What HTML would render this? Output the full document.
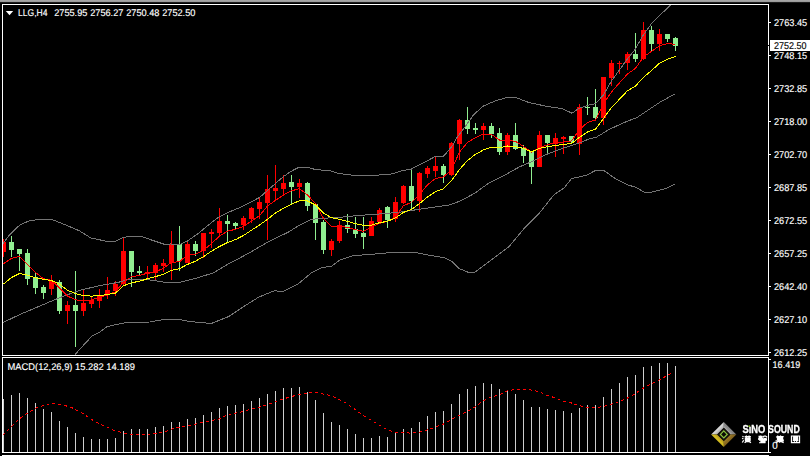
<!DOCTYPE html>
<html><head><meta charset="utf-8"><title>LLG,H4</title>
<style>
html,body{margin:0;padding:0;background:#000;}
body{width:810px;height:456px;overflow:hidden;position:relative;font-family:"Liberation Sans",sans-serif;}
svg{position:absolute;left:0;top:0;display:block}
.t{font-family:"Liberation Sans",sans-serif;font-size:9.3px;fill:#fff;stroke:#fff;stroke-width:0.15px}
</style></head><body>
<svg width="810" height="456" viewBox="0 0 810 456">
<defs>
<linearGradient id="gs" x1="0" y1="0" x2="0" y2="1"><stop offset="0" stop-color="#aaaaaa"/><stop offset="0.6" stop-color="#9a9a9a"/><stop offset="1" stop-color="#222"/></linearGradient>
<clipPath id="cm"><rect x="3" y="5" width="765" height="350"/></clipPath>
<clipPath id="cd"><rect x="3" y="358" width="765" height="94"/></clipPath>
</defs>
<rect width="810" height="456" fill="#000"/>
<rect x="0" y="0" width="810" height="2.6" fill="url(#gs)"/>
<!-- frames -->
<g fill="#fff" shape-rendering="crispEdges">
<rect x="2" y="4" width="767" height="1"/>
<rect x="2" y="4" width="1" height="352"/>
<rect x="2" y="355" width="767" height="1"/>
<rect x="768" y="4" width="1" height="41"/>
<rect x="768" y="46" width="1" height="310"/>
<rect x="2" y="357" width="767" height="1"/>
<rect x="2" y="357" width="1" height="96"/>
<rect x="2" y="452" width="767" height="1"/>
<rect x="768" y="357" width="1" height="96"/>
<rect x="2" y="455" width="767" height="1"/>
<rect x="2" y="455" width="1" height="1"/>
<rect x="768" y="455" width="1" height="1"/>
</g>
<!-- ticks -->
<g fill="#fff" shape-rendering="crispEdges" id="ticks">
<rect x="769" y="22" width="2" height="1"/><rect x="769" y="55" width="2" height="1"/><rect x="769" y="88" width="2" height="1"/><rect x="769" y="121" width="2" height="1"/><rect x="769" y="154" width="2" height="1"/><rect x="769" y="187" width="2" height="1"/><rect x="769" y="220" width="2" height="1"/><rect x="769" y="253" width="2" height="1"/><rect x="769" y="286" width="2" height="1"/><rect x="769" y="319" width="2" height="1"/><rect x="769" y="352" width="2" height="1"/>
<rect x="769" y="359" width="2" height="1"/>
<rect x="769" y="452" width="2" height="1"/>
</g>
<g clip-path="url(#cm)">
<g shape-rendering="crispEdges">
<rect x="3" y="239" width="1" height="18" fill="#ff0000"/>
<rect x="1" y="242" width="5" height="10" fill="#ff0000"/>
<rect x="11" y="236" width="1" height="21" fill="#90ee90"/>
<rect x="9" y="242" width="5" height="8" fill="#90ee90"/>
<rect x="19" y="249" width="1" height="22" fill="#90ee90"/>
<rect x="17" y="249" width="5" height="5" fill="#90ee90"/>
<rect x="27" y="249" width="1" height="36" fill="#90ee90"/>
<rect x="25" y="253" width="5" height="26" fill="#90ee90"/>
<rect x="35" y="272" width="1" height="22" fill="#90ee90"/>
<rect x="33" y="277" width="5" height="11" fill="#90ee90"/>
<rect x="43" y="285" width="1" height="14" fill="#90ee90"/>
<rect x="41" y="287" width="5" height="6" fill="#90ee90"/>
<rect x="51" y="275" width="1" height="20" fill="#ff0000"/>
<rect x="49" y="281" width="5" height="8" fill="#ff0000"/>
<rect x="59" y="280" width="1" height="34" fill="#90ee90"/>
<rect x="57" y="282" width="5" height="29" fill="#90ee90"/>
<rect x="67" y="301" width="1" height="23" fill="#ff0000"/>
<rect x="65" y="305" width="5" height="6" fill="#ff0000"/>
<rect x="75" y="271" width="1" height="76" fill="#90ee90"/>
<rect x="73" y="305" width="5" height="6" fill="#90ee90"/>
<rect x="83" y="290" width="1" height="26" fill="#ff0000"/>
<rect x="81" y="303" width="5" height="8" fill="#ff0000"/>
<rect x="91" y="297" width="1" height="11" fill="#ff0000"/>
<rect x="89" y="300" width="5" height="4" fill="#ff0000"/>
<rect x="99" y="289" width="1" height="19" fill="#ff0000"/>
<rect x="97" y="296" width="5" height="5" fill="#ff0000"/>
<rect x="107" y="277" width="1" height="22" fill="#ff0000"/>
<rect x="105" y="290" width="5" height="4" fill="#ff0000"/>
<rect x="115" y="281" width="1" height="15" fill="#ff0000"/>
<rect x="113" y="284" width="5" height="7" fill="#ff0000"/>
<rect x="123" y="238" width="1" height="47" fill="#ff0000"/>
<rect x="121" y="251" width="5" height="33" fill="#ff0000"/>
<rect x="131" y="251" width="1" height="36" fill="#90ee90"/>
<rect x="129" y="251" width="5" height="21" fill="#90ee90"/>
<rect x="139" y="266" width="1" height="10" fill="#90ee90"/>
<rect x="137" y="271" width="5" height="2" fill="#90ee90"/>
<rect x="147" y="266" width="1" height="14" fill="#ff0000"/>
<rect x="145" y="272" width="5" height="2" fill="#ff0000"/>
<rect x="155" y="263" width="1" height="18" fill="#ff0000"/>
<rect x="153" y="265" width="5" height="8" fill="#ff0000"/>
<rect x="163" y="259" width="1" height="13" fill="#ff0000"/>
<rect x="161" y="263" width="5" height="3" fill="#ff0000"/>
<rect x="171" y="231" width="1" height="49" fill="#ff0000"/>
<rect x="169" y="244" width="5" height="19" fill="#ff0000"/>
<rect x="179" y="226" width="1" height="45" fill="#90ee90"/>
<rect x="177" y="244" width="5" height="17" fill="#90ee90"/>
<rect x="187" y="240" width="1" height="23" fill="#ff0000"/>
<rect x="185" y="244" width="5" height="19" fill="#ff0000"/>
<rect x="195" y="241" width="1" height="15" fill="#90ee90"/>
<rect x="193" y="244" width="5" height="7" fill="#90ee90"/>
<rect x="203" y="233" width="1" height="25" fill="#ff0000"/>
<rect x="201" y="233" width="5" height="18" fill="#ff0000"/>
<rect x="211" y="229" width="1" height="19" fill="#ff0000"/>
<rect x="209" y="232" width="5" height="2" fill="#ff0000"/>
<rect x="219" y="208" width="1" height="28" fill="#ff0000"/>
<rect x="217" y="221" width="5" height="12" fill="#ff0000"/>
<rect x="227" y="215" width="1" height="27" fill="#90ee90"/>
<rect x="225" y="221" width="5" height="3" fill="#90ee90"/>
<rect x="235" y="222" width="1" height="7" fill="#90ee90"/>
<rect x="233" y="223" width="5" height="3" fill="#90ee90"/>
<rect x="243" y="216" width="1" height="14" fill="#ff0000"/>
<rect x="241" y="218" width="5" height="7" fill="#ff0000"/>
<rect x="251" y="207" width="1" height="16" fill="#ff0000"/>
<rect x="249" y="208" width="5" height="11" fill="#ff0000"/>
<rect x="259" y="198" width="1" height="21" fill="#ff0000"/>
<rect x="257" y="202" width="5" height="7" fill="#ff0000"/>
<rect x="267" y="175" width="1" height="65" fill="#ff0000"/>
<rect x="265" y="189" width="5" height="14" fill="#ff0000"/>
<rect x="275" y="165" width="1" height="36" fill="#ff0000"/>
<rect x="273" y="188" width="5" height="3" fill="#ff0000"/>
<rect x="283" y="175" width="1" height="20" fill="#ff0000"/>
<rect x="281" y="183" width="5" height="6" fill="#ff0000"/>
<rect x="291" y="175" width="1" height="29" fill="#90ee90"/>
<rect x="289" y="182" width="5" height="5" fill="#90ee90"/>
<rect x="299" y="179" width="1" height="19" fill="#ff0000"/>
<rect x="297" y="183" width="5" height="4" fill="#ff0000"/>
<rect x="307" y="182" width="1" height="29" fill="#90ee90"/>
<rect x="305" y="183" width="5" height="23" fill="#90ee90"/>
<rect x="315" y="204" width="1" height="36" fill="#90ee90"/>
<rect x="313" y="204" width="5" height="19" fill="#90ee90"/>
<rect x="323" y="220" width="1" height="34" fill="#90ee90"/>
<rect x="321" y="222" width="5" height="28" fill="#90ee90"/>
<rect x="331" y="239" width="1" height="17" fill="#ff0000"/>
<rect x="329" y="241" width="5" height="9" fill="#ff0000"/>
<rect x="339" y="221" width="1" height="22" fill="#ff0000"/>
<rect x="337" y="225" width="5" height="16" fill="#ff0000"/>
<rect x="347" y="214" width="1" height="19" fill="#90ee90"/>
<rect x="345" y="225" width="5" height="4" fill="#90ee90"/>
<rect x="355" y="217" width="1" height="21" fill="#90ee90"/>
<rect x="353" y="229" width="5" height="5" fill="#90ee90"/>
<rect x="363" y="217" width="1" height="32" fill="#90ee90"/>
<rect x="361" y="233" width="5" height="4" fill="#90ee90"/>
<rect x="371" y="217" width="1" height="19" fill="#ff0000"/>
<rect x="369" y="221" width="5" height="15" fill="#ff0000"/>
<rect x="379" y="208" width="1" height="14" fill="#ff0000"/>
<rect x="377" y="210" width="5" height="12" fill="#ff0000"/>
<rect x="387" y="206" width="1" height="22" fill="#90ee90"/>
<rect x="385" y="207" width="5" height="13" fill="#90ee90"/>
<rect x="395" y="197" width="1" height="25" fill="#ff0000"/>
<rect x="393" y="202" width="5" height="17" fill="#ff0000"/>
<rect x="403" y="185" width="1" height="19" fill="#ff0000"/>
<rect x="401" y="186" width="5" height="17" fill="#ff0000"/>
<rect x="411" y="169" width="1" height="40" fill="#90ee90"/>
<rect x="409" y="186" width="5" height="15" fill="#90ee90"/>
<rect x="419" y="172" width="1" height="40" fill="#ff0000"/>
<rect x="417" y="173" width="5" height="28" fill="#ff0000"/>
<rect x="427" y="166" width="1" height="12" fill="#ff0000"/>
<rect x="425" y="168" width="5" height="6" fill="#ff0000"/>
<rect x="435" y="156" width="1" height="21" fill="#ff0000"/>
<rect x="433" y="166" width="5" height="5" fill="#ff0000"/>
<rect x="443" y="164" width="1" height="19" fill="#90ee90"/>
<rect x="441" y="166" width="5" height="9" fill="#90ee90"/>
<rect x="451" y="142" width="1" height="34" fill="#ff0000"/>
<rect x="449" y="143" width="5" height="32" fill="#ff0000"/>
<rect x="459" y="119" width="1" height="41" fill="#ff0000"/>
<rect x="457" y="120" width="5" height="24" fill="#ff0000"/>
<rect x="467" y="107" width="1" height="27" fill="#90ee90"/>
<rect x="465" y="120" width="5" height="9" fill="#90ee90"/>
<rect x="475" y="123" width="1" height="11" fill="#90ee90"/>
<rect x="473" y="128" width="5" height="2" fill="#90ee90"/>
<rect x="483" y="123" width="1" height="17" fill="#ff0000"/>
<rect x="481" y="126" width="5" height="4" fill="#ff0000"/>
<rect x="491" y="123" width="1" height="15" fill="#90ee90"/>
<rect x="489" y="126" width="5" height="8" fill="#90ee90"/>
<rect x="499" y="128" width="1" height="27" fill="#90ee90"/>
<rect x="497" y="133" width="5" height="19" fill="#90ee90"/>
<rect x="507" y="133" width="1" height="22" fill="#ff0000"/>
<rect x="505" y="135" width="5" height="17" fill="#ff0000"/>
<rect x="515" y="123" width="1" height="27" fill="#90ee90"/>
<rect x="513" y="135" width="5" height="14" fill="#90ee90"/>
<rect x="523" y="145" width="1" height="18" fill="#90ee90"/>
<rect x="521" y="148" width="5" height="8" fill="#90ee90"/>
<rect x="531" y="151" width="1" height="33" fill="#90ee90"/>
<rect x="529" y="152" width="5" height="15" fill="#90ee90"/>
<rect x="539" y="131" width="1" height="36" fill="#ff0000"/>
<rect x="537" y="135" width="5" height="32" fill="#ff0000"/>
<rect x="547" y="135" width="1" height="19" fill="#90ee90"/>
<rect x="545" y="135" width="5" height="8" fill="#90ee90"/>
<rect x="555" y="133" width="1" height="24" fill="#ff0000"/>
<rect x="553" y="138" width="5" height="6" fill="#ff0000"/>
<rect x="563" y="136" width="1" height="18" fill="#ff0000"/>
<rect x="561" y="137" width="5" height="2" fill="#ff0000"/>
<rect x="571" y="136" width="1" height="7" fill="#90ee90"/>
<rect x="569" y="136" width="5" height="6" fill="#90ee90"/>
<rect x="579" y="104" width="1" height="51" fill="#ff0000"/>
<rect x="577" y="107" width="5" height="37" fill="#ff0000"/>
<rect x="587" y="97" width="1" height="18" fill="#90ee90"/>
<rect x="585" y="107" width="5" height="1" fill="#90ee90"/>
<rect x="595" y="89" width="1" height="32" fill="#90ee90"/>
<rect x="593" y="107" width="5" height="11" fill="#90ee90"/>
<rect x="603" y="77" width="1" height="48" fill="#ff0000"/>
<rect x="601" y="77" width="5" height="41" fill="#ff0000"/>
<rect x="611" y="60" width="1" height="26" fill="#ff0000"/>
<rect x="609" y="63" width="5" height="15" fill="#ff0000"/>
<rect x="619" y="61" width="1" height="13" fill="#ff0000"/>
<rect x="617" y="63" width="5" height="1" fill="#ff0000"/>
<rect x="627" y="52" width="1" height="18" fill="#ff0000"/>
<rect x="625" y="54" width="5" height="9" fill="#ff0000"/>
<rect x="635" y="33" width="1" height="29" fill="#90ee90"/>
<rect x="633" y="54" width="5" height="5" fill="#90ee90"/>
<rect x="643" y="22" width="1" height="38" fill="#ff0000"/>
<rect x="641" y="30" width="5" height="29" fill="#ff0000"/>
<rect x="651" y="26" width="1" height="25" fill="#90ee90"/>
<rect x="649" y="30" width="5" height="14" fill="#90ee90"/>
<rect x="659" y="29" width="1" height="22" fill="#ff0000"/>
<rect x="657" y="34" width="5" height="10" fill="#ff0000"/>
<rect x="667" y="34" width="1" height="8" fill="#90ee90"/>
<rect x="665" y="34" width="5" height="5" fill="#90ee90"/>
<rect x="675" y="37" width="1" height="14" fill="#90ee90"/>
<rect x="673" y="38" width="5" height="8" fill="#90ee90"/>
</g>
<g fill="none" stroke="#747474" stroke-width="1" shape-rendering="crispEdges">
<polyline points="3.0,243.6 9.9,234.5 19.8,225.0 29.6,220.7 41.5,219.3 52.3,219.7 65.2,224.8 79.0,230.6 90.9,238.0 106.7,241.3 115.6,241.3 123.5,237.3 132.3,236.3 142.2,236.7 150.0,239.5 163.8,244.1 171.3,244.0 179.6,244.7 187.5,241.0 197.4,234.1 209.3,224.3 219.1,216.8 229.0,212.0 238.9,208.0 250.0,202.7 259.9,197.2 267.8,190.2 275.7,183.3 283.6,176.4 291.5,171.1 298.4,167.5 307.3,167.1 315.2,169.5 331.0,170.9 338.9,173.5 354.7,175.4 374.4,175.4 392.2,173.9 402.1,170.5 410.9,169.3 434.6,156.9 443.5,156.2 448.4,150.7 453.3,144.6 457.3,136.9 463.7,128.6 473.6,114.8 483.5,105.9 495.3,100.9 507.2,97.4 517.0,98.0 528.9,102.5 544.7,105.9 562.5,108.8 572.0,113.2 578.3,108.8 587.8,105.2 595.7,103.6 603.6,94.7 611.7,80.6 619.6,69.8 627.0,59.5 635.0,49.5 643.0,35.5 651.0,24.3 659.0,16.0 667.0,8.5 671.0,4.5"/>
<polyline points="3.0,322.6 19.8,314.5 39.5,306.2 59.3,297.8 79.0,290.5 98.8,285.8 118.5,282.3 128.4,279.3 142.2,279.3 150.0,280.0 165.8,282.4 179.6,282.4 195.4,278.5 213.2,272.9 229.0,263.6 248.8,253.2 268.5,241.6 288.3,232.2 300.0,224.8 311.9,219.3 323.7,218.3 339.5,217.3 359.3,215.4 379.0,214.0 398.8,212.4 418.5,209.4 438.3,206.5 450.0,204.8 460.0,201.1 475.2,193.0 488.5,183.2 503.2,176.0 519.0,167.1 532.8,161.2 546.7,154.3 562.5,148.3 578.3,143.4 590.1,138.5 595.7,137.6 609.5,129.3 623.3,122.9 637.2,117.4 649.0,109.5 660.9,101.6 674.7,94.1"/>
<polyline points="73.5,357.0 75.3,354.3 79.6,349.4 87.0,341.5 92.0,335.8 99.4,332.5 106.5,327.0 111.7,325.5 121.0,323.5 127.2,322.6 150.0,322.0 163.8,319.5 179.6,319.5 189.5,321.5 211.2,323.5 229.0,316.4 242.8,307.1 258.6,297.2 274.4,290.7 282.3,291.7 298.1,284.0 311.9,272.5 321.7,267.6 331.6,266.2 339.5,260.3 353.3,255.7 373.1,254.2 392.8,252.4 414.6,252.4 428.4,255.1 444.2,257.7 452.1,261.7 458.9,268.5 467.8,272.1 475.2,272.1 488.5,262.0 509.3,246.3 524.1,228.5 538.9,213.7 553.7,195.0 564.1,187.9 571.5,178.7 586.3,175.2 595.2,170.7 604.1,170.7 615.9,179.0 627.8,185.0 635.2,187.0 644.1,192.1 651.5,192.1 666.3,188.5 675.2,184.1"/>
</g>
<polyline points="3.5,263.6 11.5,258.4 19.5,256.4 27.5,264.3 35.5,272.4 43.5,278.8 51.5,280.3 59.5,287.8 67.5,296.1 75.5,299.7 83.5,301.0 91.5,300.1 99.5,297.1 107.5,295.1 115.5,291.8 123.5,282.3 131.5,276.8 139.5,275.4 147.5,273.2 155.5,271.9 163.5,268.2 171.5,262.3 179.5,261.8 187.5,254.8 195.5,254.4 203.5,250.3 211.5,243.5 219.5,236.1 227.5,231.2 235.5,229.3 243.5,226.6 251.5,221.0 259.5,215.6 267.5,206.0 275.5,200.4 283.5,195.0 291.5,190.8 299.5,188.7 307.5,195.0 315.5,203.6 323.5,218.5 331.5,226.3 339.5,226.6 347.5,227.2 355.5,229.8 363.5,231.2 371.5,227.2 379.5,223.3 387.5,221.3 395.5,217.3 403.5,205.5 411.5,202.5 419.5,194.6 427.5,184.8 435.5,178.4 443.5,176.9 451.5,170.0 459.5,152.0 467.5,142.4 475.5,137.5 483.5,134.1 491.5,134.5 499.5,140.0 507.5,140.0 515.5,141.4 523.5,146.4 531.5,152.3 539.5,147.3 547.5,144.8 555.5,142.4 563.5,142.0 571.5,141.0 579.5,129.5 587.5,122.5 595.5,120.0 603.5,103.6 611.5,92.0 619.5,82.8 627.5,74.0 635.5,68.3 643.5,57.0 651.5,51.4 659.5,45.8 667.5,43.5 675.5,44.4" fill="none" stroke="#ff0000" stroke-width="1" shape-rendering="crispEdges"/>
<polyline points="3.5,284.0 11.5,277.5 19.5,273.5 27.5,275.2 35.5,277.8 43.5,279.2 51.5,280.5 59.5,284.1 67.5,290.2 75.5,293.7 83.5,295.7 91.5,296.1 99.5,295.7 107.5,294.5 115.5,293.1 123.5,285.8 131.5,282.7 139.5,281.3 147.5,278.7 155.5,276.6 163.5,274.2 171.5,270.4 179.5,268.6 187.5,264.4 195.5,261.2 203.5,256.6 211.5,251.2 219.5,246.5 227.5,242.5 235.5,239.6 243.5,235.5 251.5,230.2 259.5,225.0 267.5,219.3 275.5,213.0 283.5,208.3 291.5,204.1 299.5,200.8 307.5,201.0 315.5,205.0 323.5,213.0 331.5,217.7 339.5,219.3 347.5,221.3 355.5,223.7 363.5,225.2 371.5,225.2 379.5,222.7 387.5,221.3 395.5,217.9 403.5,212.4 411.5,209.4 419.5,203.5 427.5,197.0 435.5,191.7 443.5,188.7 451.5,180.8 459.5,169.5 467.5,160.5 475.5,154.3 483.5,149.9 491.5,147.3 499.5,147.9 507.5,146.0 515.5,146.8 523.5,148.3 531.5,151.9 539.5,148.3 547.5,146.8 555.5,145.4 563.5,144.4 571.5,143.6 579.5,137.3 587.5,132.0 595.5,129.2 603.5,118.4 611.5,107.5 619.5,99.2 627.5,90.7 635.5,86.0 643.5,77.3 651.5,70.5 659.5,63.2 667.5,59.3 675.5,56.3" fill="none" stroke="#ffff00" stroke-width="1" shape-rendering="crispEdges"/>
</g>
<g clip-path="url(#cd)">
<g fill="#cfcfcf" shape-rendering="crispEdges">
<rect x="3" y="399" width="1" height="53"/>
<rect x="11" y="395" width="1" height="57"/>
<rect x="19" y="393" width="1" height="59"/>
<rect x="27" y="398" width="1" height="54"/>
<rect x="35" y="403" width="1" height="49"/>
<rect x="43" y="409" width="1" height="43"/>
<rect x="51" y="412" width="1" height="40"/>
<rect x="59" y="421" width="1" height="31"/>
<rect x="67" y="427" width="1" height="25"/>
<rect x="75" y="433" width="1" height="19"/>
<rect x="83" y="437" width="1" height="15"/>
<rect x="91" y="439" width="1" height="13"/>
<rect x="99" y="439" width="1" height="13"/>
<rect x="107" y="439" width="1" height="13"/>
<rect x="115" y="438" width="1" height="14"/>
<rect x="123" y="431" width="1" height="21"/>
<rect x="131" y="429" width="1" height="23"/>
<rect x="139" y="429" width="1" height="23"/>
<rect x="147" y="429" width="1" height="23"/>
<rect x="155" y="427" width="1" height="25"/>
<rect x="163" y="426" width="1" height="26"/>
<rect x="171" y="422" width="1" height="30"/>
<rect x="179" y="422" width="1" height="30"/>
<rect x="187" y="419" width="1" height="33"/>
<rect x="195" y="418" width="1" height="34"/>
<rect x="203" y="415" width="1" height="37"/>
<rect x="211" y="412" width="1" height="40"/>
<rect x="219" y="408" width="1" height="44"/>
<rect x="227" y="406" width="1" height="46"/>
<rect x="235" y="405" width="1" height="47"/>
<rect x="243" y="404" width="1" height="48"/>
<rect x="251" y="401" width="1" height="51"/>
<rect x="259" y="398" width="1" height="54"/>
<rect x="267" y="394" width="1" height="58"/>
<rect x="275" y="391" width="1" height="61"/>
<rect x="283" y="388" width="1" height="64"/>
<rect x="291" y="388" width="1" height="64"/>
<rect x="299" y="387" width="1" height="65"/>
<rect x="307" y="392" width="1" height="60"/>
<rect x="315" y="400" width="1" height="52"/>
<rect x="323" y="413" width="1" height="39"/>
<rect x="331" y="422" width="1" height="30"/>
<rect x="339" y="425" width="1" height="27"/>
<rect x="347" y="429" width="1" height="23"/>
<rect x="355" y="434" width="1" height="18"/>
<rect x="363" y="438" width="1" height="14"/>
<rect x="371" y="438" width="1" height="14"/>
<rect x="379" y="436" width="1" height="16"/>
<rect x="387" y="437" width="1" height="15"/>
<rect x="395" y="433" width="1" height="19"/>
<rect x="403" y="429" width="1" height="23"/>
<rect x="411" y="428" width="1" height="24"/>
<rect x="419" y="422" width="1" height="30"/>
<rect x="427" y="416" width="1" height="36"/>
<rect x="435" y="412" width="1" height="40"/>
<rect x="443" y="411" width="1" height="41"/>
<rect x="451" y="404" width="1" height="48"/>
<rect x="459" y="394" width="1" height="58"/>
<rect x="467" y="389" width="1" height="63"/>
<rect x="475" y="386" width="1" height="66"/>
<rect x="483" y="383" width="1" height="69"/>
<rect x="491" y="384" width="1" height="68"/>
<rect x="499" y="389" width="1" height="63"/>
<rect x="507" y="390" width="1" height="62"/>
<rect x="515" y="394" width="1" height="58"/>
<rect x="523" y="400" width="1" height="52"/>
<rect x="531" y="407" width="1" height="45"/>
<rect x="539" y="407" width="1" height="45"/>
<rect x="547" y="409" width="1" height="43"/>
<rect x="555" y="410" width="1" height="42"/>
<rect x="563" y="411" width="1" height="41"/>
<rect x="571" y="413" width="1" height="39"/>
<rect x="579" y="408" width="1" height="44"/>
<rect x="587" y="405" width="1" height="47"/>
<rect x="595" y="405" width="1" height="47"/>
<rect x="603" y="397" width="1" height="55"/>
<rect x="611" y="389" width="1" height="63"/>
<rect x="619" y="383" width="1" height="69"/>
<rect x="627" y="377" width="1" height="75"/>
<rect x="635" y="375" width="1" height="77"/>
<rect x="643" y="367" width="1" height="85"/>
<rect x="651" y="366" width="1" height="86"/>
<rect x="659" y="363" width="1" height="89"/>
<rect x="667" y="363" width="1" height="89"/>
<rect x="675" y="366" width="1" height="86"/>
</g>
<polyline points="3.0,435.0 11.0,427.2 20.0,418.3 27.8,412.8 35.6,408.3 44.4,405.0 52.2,403.4 60.0,404.3 71.1,407.2 82.2,413.2 93.3,420.6 104.4,426.1 115.6,431.0 124.4,433.2 137.8,435.0 151.1,433.9 164.4,432.3 170.0,429.4 178.9,427.2 186.9,425.7 194.9,424.3 202.9,422.1 210.9,420.6 218.9,419.0 226.9,415.0 234.9,413.2 242.9,411.7 250.9,409.0 258.9,407.2 266.9,405.0 274.9,401.7 282.9,399.0 290.9,396.8 298.9,394.3 306.9,393.2 314.9,392.3 322.9,393.9 330.9,395.7 338.9,399.4 346.9,403.6 354.9,409.4 362.9,415.4 370.9,419.9 378.9,425.0 386.9,429.4 394.9,432.3 402.9,432.3 410.9,433.2 418.9,432.3 426.9,430.1 434.9,427.2 442.9,424.3 450.9,419.9 458.9,415.4 466.9,411.7 474.9,407.2 482.9,401.0 490.9,397.2 498.9,395.0 506.9,391.0 514.9,389.4 522.9,389.4 530.9,389.9 538.9,391.7 546.9,395.4 554.9,397.7 562.9,401.2 570.9,402.8 578.9,405.7 586.9,407.2 594.9,407.7 602.9,406.6 610.9,404.3 618.9,402.1 626.9,398.3 634.9,393.9 642.9,388.3 650.9,383.9 658.9,380.1 666.9,375.7 672.2,372.8" fill="none" stroke="#ff0000" stroke-width="1" stroke-dasharray="3 3" shape-rendering="crispEdges"/>
</g>
<!-- title -->
<path d="M5.8 11 L13.2 11 L9.5 15.2 Z" fill="#fff"/>
<g class="t" style="font-size:9.7px" id="title">
<text transform="translate(18,16) rotate(0.05)" textLength="29.5" lengthAdjust="spacingAndGlyphs">LLG,H4</text>
<text transform="translate(54.2,16) rotate(0.05)" textLength="33.2" lengthAdjust="spacingAndGlyphs">2755.95</text>
<text transform="translate(90.2,16) rotate(0.05)" textLength="33.2" lengthAdjust="spacingAndGlyphs">2756.27</text>
<text transform="translate(126.2,16) rotate(0.05)" textLength="33.2" lengthAdjust="spacingAndGlyphs">2750.48</text>
<text transform="translate(162.2,16) rotate(0.05)" textLength="33.2" lengthAdjust="spacingAndGlyphs">2752.50</text>
<text transform="translate(7.5,370) rotate(0.05)" textLength="127.4" lengthAdjust="spacingAndGlyphs">MACD(12,26,9) 15.282 14.189</text>
</g>
<g class="t" id="labels" style="font-size:9.8px">
<text transform="translate(774,26) rotate(0.05)" textLength="33.2" lengthAdjust="spacingAndGlyphs">2763.45</text><text transform="translate(774,59) rotate(0.05)" textLength="33.2" lengthAdjust="spacingAndGlyphs">2748.15</text><text transform="translate(774,92) rotate(0.05)" textLength="33.2" lengthAdjust="spacingAndGlyphs">2732.85</text><text transform="translate(774,125) rotate(0.05)" textLength="33.2" lengthAdjust="spacingAndGlyphs">2718.00</text><text transform="translate(774,158) rotate(0.05)" textLength="33.2" lengthAdjust="spacingAndGlyphs">2702.70</text><text transform="translate(774,191) rotate(0.05)" textLength="33.2" lengthAdjust="spacingAndGlyphs">2687.85</text><text transform="translate(774,224) rotate(0.05)" textLength="33.2" lengthAdjust="spacingAndGlyphs">2672.55</text><text transform="translate(774,257) rotate(0.05)" textLength="33.2" lengthAdjust="spacingAndGlyphs">2657.25</text><text transform="translate(774,290) rotate(0.05)" textLength="33.2" lengthAdjust="spacingAndGlyphs">2642.40</text><text transform="translate(774,323) rotate(0.05)" textLength="33.2" lengthAdjust="spacingAndGlyphs">2627.10</text><text transform="translate(774,356) rotate(0.05)" textLength="33.2" lengthAdjust="spacingAndGlyphs">2612.25</text>
<text transform="translate(772.6,368) rotate(0.05)" textLength="27.6" lengthAdjust="spacingAndGlyphs">16.419</text>
<text transform="translate(772.3,448.8) rotate(0.05)">0</text>
</g>
<rect x="770" y="40" width="40" height="11" fill="#fff"/>
<text class="t" transform="translate(774,49) rotate(0.05)" style="fill:#000;stroke:#000;font-size:9.8px" textLength="32.4" lengthAdjust="spacingAndGlyphs">2752.50</text>
<!-- logo -->
<g id="logo">
<filter id="bl" x="-5%" y="-20%" width="110%" height="140%"><feGaussianBlur stdDeviation="0.25"/></filter>
<defs>
<linearGradient id="ltl" x1="0" y1="0" x2="1" y2="1"><stop offset="0" stop-color="#8a8a8a"/><stop offset="0.55" stop-color="#d8d8d8"/><stop offset="1" stop-color="#6a6a6a"/></linearGradient>
<linearGradient id="ltr" x1="1" y1="0" x2="0" y2="1"><stop offset="0" stop-color="#5a5a5a"/><stop offset="0.6" stop-color="#8a8a8a"/><stop offset="1" stop-color="#f0f0f0"/></linearGradient>
<linearGradient id="lbl" x1="0" y1="1" x2="1" y2="0"><stop offset="0" stop-color="#f0e020"/><stop offset="0.6" stop-color="#d0b820"/><stop offset="1" stop-color="#6a4a18"/></linearGradient>
<linearGradient id="lbr" x1="1" y1="1" x2="0" y2="0"><stop offset="0" stop-color="#5a3c10"/><stop offset="0.6" stop-color="#8a6a20"/><stop offset="1" stop-color="#c8a838"/></linearGradient>
</defs>
<polygon points="711.1,434.4 723.8,422 723.8,427.7 717.2,434.4" fill="url(#ltl)"/>
<polygon points="723.8,422 736.3,434.4 730.4,434.4 723.8,427.7" fill="url(#ltr)"/>
<polygon points="711.1,434.4 717.2,434.4 723.8,440.9 723.8,447.1" fill="url(#lbl)"/>
<polygon points="736.3,434.4 723.8,447.1 723.8,440.9 730.4,434.4" fill="url(#lbr)"/>
<polygon points="723.8,427.7 730.4,434.4 723.8,440.9 717.2,434.4" fill="#14120c"/>
<polygon points="723.8,430.9 727.2,434.4 723.8,437.9 720.4,434.4" fill="#0a0a06" stroke="#8cc63f" stroke-width="1.2"/>
<text x="742.4" y="432.7" style="font-family:'Liberation Sans',sans-serif;font-weight:bold;font-size:10.4px;fill:#fff;stroke:#fff;stroke-width:0.3px" textLength="22.9" lengthAdjust="spacingAndGlyphs" filter="url(#bl)">SıNO</text>
<text x="768.1" y="432.7" style="font-family:'Liberation Sans',sans-serif;font-weight:bold;font-size:10.4px;fill:#fff;stroke:#fff;stroke-width:0.3px" textLength="31.7" lengthAdjust="spacingAndGlyphs" filter="url(#bl)">SOUND</text>
<rect x="748.5" y="425.4" width="1.6" height="1.5" fill="#8ccf20"/>
<g fill="none" stroke="#fff" stroke-width="1.3">
<g transform="translate(742.1,435.6) scale(1,0.9)"><path d="M0.3 0.8L1.5 1.6M0 3L1.3 3.7M0.2 7.6L1.6 5.2M2.5 1H8.8M4.3 0V2M7 0V2M3.3 2.6H8V4.4H3.3ZM3.3 3.5H8M5.6 2V5.5M2.8 5.5H8.6M3.5 6.6H7.8M5.6 5.5L2.5 8M5.6 5.5L8.8 8"/></g>
<g transform="translate(758.5,435.6) scale(1,0.9)"><path d="M0 0.8H4M2 0V2M0.5 2H3.5M0.3 2.8H4V4.2H0.3ZM5 0.5H7.5M5 0.5L4.6 2M7.5 0.5L8.6 2M5 2.6L8.5 4.3M8.2 2.6L4.8 4.3M0.5 5H8.5M2.5 5V8M6.5 5V8M2.5 6H6.5M2.5 7H6.5M0.5 7.9H7"/></g>
<g transform="translate(775.2,435.6) scale(1,0.9)"><path d="M2.3 1V5M3 0L1 2M5.5 0L5 1M2.3 1.1H8.5M2.3 2.3H8M2.3 3.5H8M2.3 4.6H8.5M5.5 1.1V4.6M0.3 5.9H8.7M4.5 4.6V8M4.5 5.9L0.5 8M4.5 5.9L8.5 8"/></g>
<g transform="translate(791.1,435.6) scale(1,0.9)"><path d="M0.4 0.4H8.4V7.8H0.4ZM2 1.7H7M2.6 2.5H6.4V4.4H2.6ZM2.6 3.4H6.4M4.5 1V4.4M1.8 5.3H7.2M5.6 4.6V7M3 6L3.8 6.7"/></g>
</g>
</g>
</svg>
</body></html>
